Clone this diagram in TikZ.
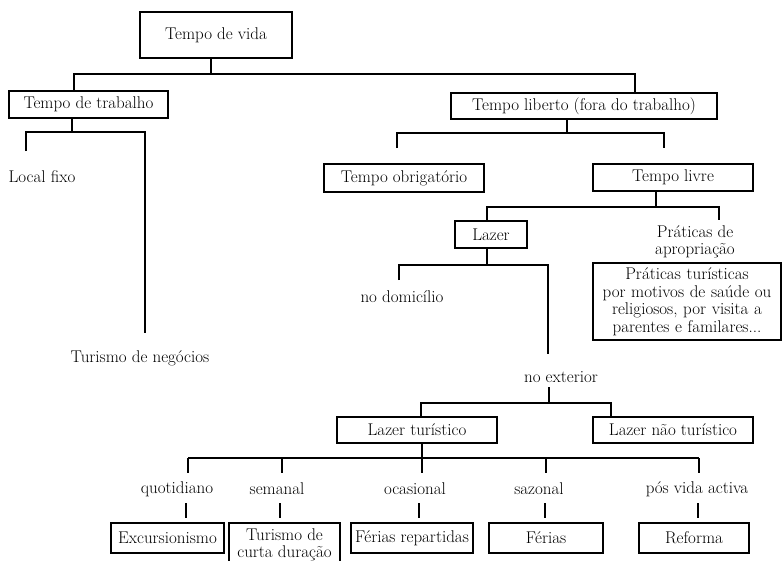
\documentclass[tikz,border=0pt]{standalone}
\begin{document}
\begin{tikzpicture}[x=1pt,y=-1pt,
  line width=1.2pt,
  every node/.style={font=\fontsize{17}{17.5}\selectfont, inner sep=0pt},
  box/.style={draw, line width=1.2pt, minimum height=27pt},
  lbl/.style={align=center}]
\useasboundingbox (0,0) rectangle (783,560);
% boxes
\node[box, minimum width=152pt, minimum height=46pt] (vida) at (216,35) {Tempo de vida};
\node[box, minimum width=159pt] (trab) at (88.5,104.5) {Tempo de trabalho};
\node[box, minimum width=266pt, minimum height=26pt] (lib) at (584,106) {Tempo liberto (fora do trabalho)};
\node[box, minimum width=160pt, minimum height=28pt] (obrig) at (404,178) {Tempo obrigatório};
\node[box, minimum width=160pt] (livre) at (673,177.5) {Tempo livre};
\node[box, minimum width=72pt] (lazer) at (491,234.5) {Lazer};
\node[lbl] (aprop) at (695,242) {Práticas de\\apropriação};
\node[box, minimum width=188pt, minimum height=77pt, text width=186pt, align=center] (ptur) at (687,301.5)
  {Práticas turísticas\\por motivos de saúde ou\\religiosos, por visita a\\parentes e familares...};
\node[lbl] (local) at (42,177) {Local fixo};
\node[lbl] (neg) at (140,358) {Turismo de negócios};
\node[lbl] (domic) at (402,297) {no domicílio};
\node[lbl] (ext) at (561,377) {no exterior};
\node[box, minimum width=160pt, minimum height=26pt] (ltur) at (417,430) {Lazer turístico};
\node[box, minimum width=160pt, minimum height=26pt] (lnao) at (673,430) {Lazer não turístico};
\node[lbl] (quot) at (177,489) {quotidiano};
\node[lbl] (sem) at (277,489) {semanal};
\node[lbl] (ocas) at (415,489) {ocasional};
\node[lbl] (saz) at (539,489) {sazonal};
\node[lbl] (pos) at (697,489) {pós vida activa};
\node[box, minimum width=113pt, minimum height=30pt] (excur) at (167.5,538) {Excursionismo};
\node[box, minimum width=111pt, minimum height=44pt, align=center] (curta) at (284.5,545) {Turismo de\\curta duração};
\node[box, minimum width=122pt, minimum height=30pt] (frep) at (412,538) {Férias repartidas};
\node[box, minimum width=114pt, minimum height=30pt] (fer) at (546,538) {Férias};
\node[box, minimum width=110pt, minimum height=30pt] (ref) at (694,538) {Reforma};
% connectors: level 1
\coordinate (a0) at (211,74); \coordinate (aL) at (74,74); \coordinate (aR) at (635,74);
\draw (a0 |- vida.south) -- (a0);
\draw (aL |- trab.north) -- (aL) -- (aR) -- (aR |- lib.north);
% trabalho
\coordinate (b0) at (72,132); \coordinate (bL) at (26,132); \coordinate (bR) at (145,132);
\coordinate (bLe) at (26,151); \coordinate (bRe) at (145,333);
\draw (b0 |- trab.south) -- (b0);
\draw (bLe) -- (bL) -- (bR) -- (bRe);
% liberto
\coordinate (c0) at (567,133); \coordinate (cL) at (397,133); \coordinate (cR) at (664,133);
\coordinate (cLe) at (397,148); \coordinate (cRe) at (664,148);
\draw (c0 |- lib.south) -- (c0);
\draw (cLe) -- (cL) -- (cR) -- (cRe);
% livre
\coordinate (d0) at (656,207); \coordinate (dL) at (487,207); \coordinate (dR) at (719,207);
\coordinate (dRe) at (719,220);
\draw (d0 |- livre.south) -- (d0);
\draw (dL |- lazer.north) -- (dL) -- (dR) -- (dRe);
% lazer
\coordinate (e0) at (487,265); \coordinate (eL) at (399,265); \coordinate (eR) at (548,265);
\coordinate (eLe) at (399,280); \coordinate (eRe) at (548,354);
\draw (e0 |- lazer.south) -- (e0);
\draw (eLe) -- (eL) -- (eR) -- (eRe);
% exterior
\coordinate (f0) at (549,403); \coordinate (fL) at (421,403); \coordinate (fR) at (611,403);
\coordinate (fs) at (549,387);
\draw (fs) -- (f0);
\draw (fL |- ltur.north) -- (fL) -- (fR) -- (fR |- lnao.north);
% lazer turistico
\coordinate (g0) at (422,458); \coordinate (g1) at (188,458); \coordinate (g2) at (282,458);
\coordinate (g4) at (546,458); \coordinate (g5) at (699,458);
\draw (g0 |- ltur.south) -- (g0);
\draw (g1) -- (g5);
\foreach \g in {g1,g2,g0,g4,g5} { \draw (\g) -- ++(0,15); }
% label to box ticks
\foreach \lab/\xx in {quot/186, sem/280, ocas/419, saz/545, pos/698} {
  \coordinate (t-\lab) at (\xx,0);
  \draw (t-\lab |- 0,503) -- (t-\lab |- 0,518);
}
\end{tikzpicture}
\end{document}
